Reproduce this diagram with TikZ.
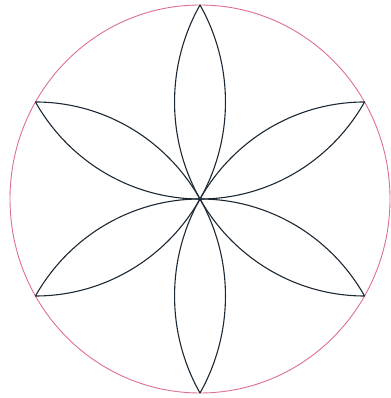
\documentclass[tikz,border=0pt]{standalone}
\usepackage{tikz}
\definecolor{ringcol}{RGB}{222,110,150}
\definecolor{petalcol}{RGB}{28,40,52}
\tikzset{
  ring/.style={draw=ringcol, line width=0.9pt},
  petal/.style={draw=petalcol, line width=1.1pt, line join=round}
}
\begin{document}
\begin{tikzpicture}[x=1pt,y=1pt]
\useasboundingbox (0,0) rectangle (390,398);
\begin{scope}[shift={(200,199)}, x=190pt, y=194pt]
  \coordinate (O) at (0,0);
  \draw[ring] (O) circle[radius=1];
  \foreach \t in {90,150,210,270,330,30} {
    \draw[petal] (O) arc[start angle=\t+120, end angle=\t+60, radius=1]
                 arc[start angle=\t-60, end angle=\t-120, radius=1];
  }
\end{scope}
\end{tikzpicture}
\end{document}
